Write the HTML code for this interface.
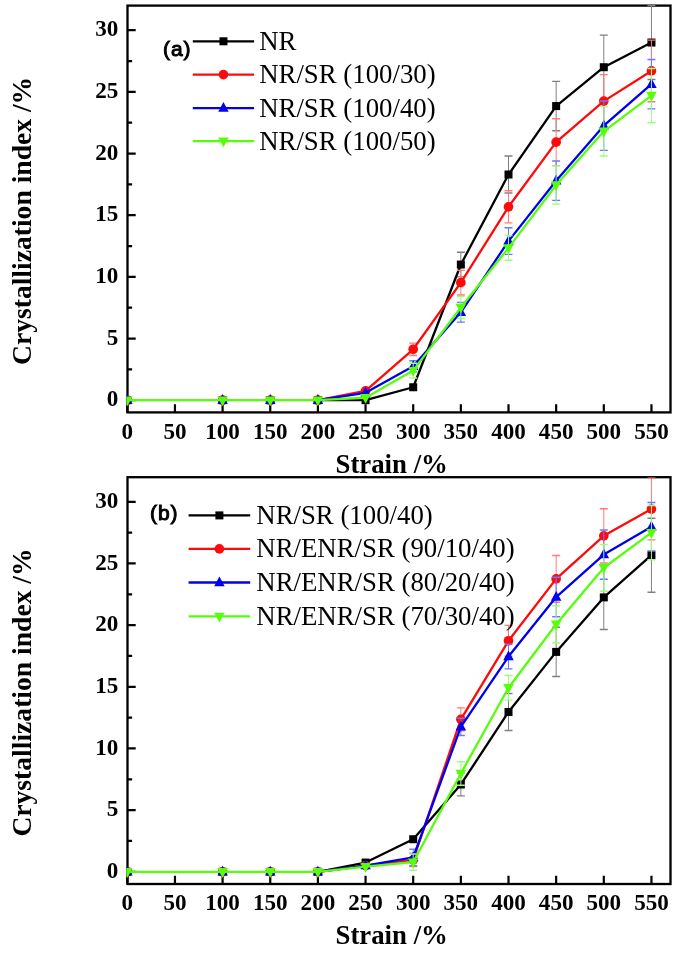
<!DOCTYPE html><html><head><meta charset="utf-8"><style>html,body{margin:0;padding:0;background:#fff;}svg{display:block;will-change:transform;}.t{font-family:"Liberation Serif",serif;font-weight:bold;font-size:23.1px;}.ti{font-family:"Liberation Serif",serif;font-weight:bold;font-size:26.8px;}.lg{font-family:"Liberation Serif",serif;font-size:26.8px;}.tag{font-family:"Liberation Sans",sans-serif;font-size:21px;stroke:#000;stroke-width:1.0;letter-spacing:1.0px;}.yt{font-family:"Liberation Serif",serif;font-weight:bold;font-size:27.6px;}</style></head><body>
<svg width="675" height="955" viewBox="0 0 675 955">
<rect width="675" height="955" fill="#fff"/>
<rect x="127.5" y="5.6" width="543.0" height="406.79999999999995" fill="none" stroke="#000" stroke-width="2.3"/>
<path d="M127.50 400.20H135.70 M127.50 369.37H132.10 M127.50 338.53H135.70 M127.50 307.70H132.10 M127.50 276.87H135.70 M127.50 246.04H132.10 M127.50 215.20H135.70 M127.50 184.37H132.10 M127.50 153.54H135.70 M127.50 122.71H132.10 M127.50 91.88H135.70 M127.50 61.04H132.10 M127.50 30.21H135.70 M127.30 412.40V404.20 M174.95 412.40V404.20 M222.60 412.40V404.20 M270.25 412.40V404.20 M317.90 412.40V404.20 M365.55 412.40V404.20 M413.20 412.40V404.20 M460.85 412.40V404.20 M508.50 412.40V404.20 M556.15 412.40V404.20 M603.80 412.40V404.20 M651.45 412.40V404.20" stroke="#000" stroke-width="2.2" fill="none"/>
<clipPath id="c0"><rect x="126.3" y="4.3999999999999995" width="545.4" height="409.19999999999993"/></clipPath>
<g clip-path="url(#c0)">
<path d="M460.85 252.20V276.87" stroke="#808080" stroke-width="1.0" fill="none"/>
<path d="M456.85 252.20H464.85M456.85 276.87H464.85" stroke="#808080" stroke-width="1.4" fill="none"/>
<path d="M508.50 156.01V193.01" stroke="#808080" stroke-width="1.0" fill="none"/>
<path d="M504.50 156.01H512.50M504.50 193.01H512.50" stroke="#808080" stroke-width="1.4" fill="none"/>
<path d="M556.15 81.39V130.72" stroke="#808080" stroke-width="1.0" fill="none"/>
<path d="M552.15 81.39H560.15M552.15 130.72H560.15" stroke="#808080" stroke-width="1.4" fill="none"/>
<path d="M603.80 35.14V99.27" stroke="#808080" stroke-width="1.0" fill="none"/>
<path d="M599.80 35.14H607.80M599.80 99.27H607.80" stroke="#808080" stroke-width="1.4" fill="none"/>
<path d="M651.45 5.54V79.54" stroke="#808080" stroke-width="1.0" fill="none"/>
<path d="M647.45 5.54H655.45M647.45 79.54H655.45" stroke="#808080" stroke-width="1.4" fill="none"/>
<polyline points="317.90,400.20 365.55,400.20 413.20,387.25 460.85,264.54 508.50,174.51 556.15,106.06 603.80,67.21 651.45,42.54" fill="none" stroke="#000000" stroke-width="2.3" stroke-linejoin="round"/>
<rect x="123.30" y="396.20" width="8.0" height="8.0" fill="#000000"/>
<rect x="218.60" y="396.20" width="8.0" height="8.0" fill="#000000"/>
<rect x="266.25" y="396.20" width="8.0" height="8.0" fill="#000000"/>
<rect x="313.90" y="396.20" width="8.0" height="8.0" fill="#000000"/>
<rect x="361.55" y="396.20" width="8.0" height="8.0" fill="#000000"/>
<rect x="409.20" y="383.25" width="8.0" height="8.0" fill="#000000"/>
<rect x="456.85" y="260.54" width="8.0" height="8.0" fill="#000000"/>
<rect x="504.50" y="170.51" width="8.0" height="8.0" fill="#000000"/>
<rect x="552.15" y="102.06" width="8.0" height="8.0" fill="#000000"/>
<rect x="599.80" y="63.21" width="8.0" height="8.0" fill="#000000"/>
<rect x="647.45" y="38.54" width="8.0" height="8.0" fill="#000000"/>
<path d="M413.20 343.10V355.43" stroke="#ff7a7a" stroke-width="1.0" fill="none"/>
<path d="M409.20 343.10H417.20M409.20 355.43H417.20" stroke="#ff7a7a" stroke-width="1.4" fill="none"/>
<path d="M460.85 270.33V295.00" stroke="#ff7a7a" stroke-width="1.0" fill="none"/>
<path d="M456.85 270.33H464.85M456.85 295.00H464.85" stroke="#ff7a7a" stroke-width="1.4" fill="none"/>
<path d="M508.50 190.79V222.85" stroke="#ff7a7a" stroke-width="1.0" fill="none"/>
<path d="M504.50 190.79H512.50M504.50 222.85H512.50" stroke="#ff7a7a" stroke-width="1.4" fill="none"/>
<path d="M556.15 118.76V165.63" stroke="#ff7a7a" stroke-width="1.0" fill="none"/>
<path d="M552.15 118.76H560.15M552.15 165.63H560.15" stroke="#ff7a7a" stroke-width="1.4" fill="none"/>
<path d="M603.80 74.61V127.64" stroke="#ff7a7a" stroke-width="1.0" fill="none"/>
<path d="M599.80 74.61H607.80M599.80 127.64H607.80" stroke="#ff7a7a" stroke-width="1.4" fill="none"/>
<path d="M651.45 40.08V101.74" stroke="#ff7a7a" stroke-width="1.0" fill="none"/>
<path d="M647.45 40.08H655.45M647.45 101.74H655.45" stroke="#ff7a7a" stroke-width="1.4" fill="none"/>
<polyline points="317.90,400.20 365.55,390.95 413.20,349.26 460.85,282.67 508.50,206.82 556.15,142.19 603.80,101.12 651.45,70.91" fill="none" stroke="#ff0a0a" stroke-width="2.3" stroke-linejoin="round"/>
<circle cx="127.30" cy="400.20" r="4.85" fill="#ff0a0a"/>
<circle cx="222.60" cy="400.20" r="4.85" fill="#ff0a0a"/>
<circle cx="270.25" cy="400.20" r="4.85" fill="#ff0a0a"/>
<circle cx="317.90" cy="400.20" r="4.85" fill="#ff0a0a"/>
<circle cx="365.55" cy="390.95" r="4.85" fill="#ff0a0a"/>
<circle cx="413.20" cy="349.26" r="4.85" fill="#ff0a0a"/>
<circle cx="460.85" cy="282.67" r="4.85" fill="#ff0a0a"/>
<circle cx="508.50" cy="206.82" r="4.85" fill="#ff0a0a"/>
<circle cx="556.15" cy="142.19" r="4.85" fill="#ff0a0a"/>
<circle cx="603.80" cy="101.12" r="4.85" fill="#ff0a0a"/>
<circle cx="651.45" cy="70.91" r="4.85" fill="#ff0a0a"/>
<path d="M413.20 360.73V371.83" stroke="#6a78ff" stroke-width="1.0" fill="none"/>
<path d="M409.20 360.73H417.20M409.20 371.83H417.20" stroke="#6a78ff" stroke-width="1.4" fill="none"/>
<path d="M460.85 302.40V322.13" stroke="#6a78ff" stroke-width="1.0" fill="none"/>
<path d="M456.85 302.40H464.85M456.85 322.13H464.85" stroke="#6a78ff" stroke-width="1.4" fill="none"/>
<path d="M508.50 227.78V254.42" stroke="#6a78ff" stroke-width="1.0" fill="none"/>
<path d="M504.50 227.78H512.50M504.50 254.42H512.50" stroke="#6a78ff" stroke-width="1.4" fill="none"/>
<path d="M556.15 160.94V200.41" stroke="#6a78ff" stroke-width="1.0" fill="none"/>
<path d="M552.15 160.94H560.15M552.15 200.41H560.15" stroke="#6a78ff" stroke-width="1.4" fill="none"/>
<path d="M603.80 101.00V150.33" stroke="#6a78ff" stroke-width="1.0" fill="none"/>
<path d="M599.80 101.00H607.80M599.80 150.33H607.80" stroke="#6a78ff" stroke-width="1.4" fill="none"/>
<path d="M651.45 59.56V108.89" stroke="#6a78ff" stroke-width="1.0" fill="none"/>
<path d="M647.45 59.56H655.45M647.45 108.89H655.45" stroke="#6a78ff" stroke-width="1.4" fill="none"/>
<polyline points="317.90,400.20 365.55,392.80 413.20,366.28 460.85,312.27 508.50,241.10 556.15,180.67 603.80,125.67 651.45,84.23" fill="none" stroke="#0000f0" stroke-width="2.3" stroke-linejoin="round"/>
<path d="M127.30 394.12L132.55 403.92L122.05 403.92Z" fill="#0000f0"/>
<path d="M222.60 394.12L227.85 403.92L217.35 403.92Z" fill="#0000f0"/>
<path d="M270.25 394.12L275.50 403.92L265.00 403.92Z" fill="#0000f0"/>
<path d="M317.90 394.12L323.15 403.92L312.65 403.92Z" fill="#0000f0"/>
<path d="M365.55 386.72L370.80 396.52L360.30 396.52Z" fill="#0000f0"/>
<path d="M413.20 360.21L418.45 370.01L407.95 370.01Z" fill="#0000f0"/>
<path d="M460.85 306.19L466.10 315.99L455.60 315.99Z" fill="#0000f0"/>
<path d="M508.50 235.03L513.75 244.83L503.25 244.83Z" fill="#0000f0"/>
<path d="M556.15 174.60L561.40 184.40L550.90 184.40Z" fill="#0000f0"/>
<path d="M603.80 119.59L609.05 129.39L598.55 129.39Z" fill="#0000f0"/>
<path d="M651.45 78.15L656.70 87.95L646.20 87.95Z" fill="#0000f0"/>
<path d="M413.20 363.20V378.00" stroke="#9cff78" stroke-width="1.0" fill="none"/>
<path d="M409.20 363.20H417.20M409.20 378.00H417.20" stroke="#9cff78" stroke-width="1.4" fill="none"/>
<path d="M460.85 296.36V318.56" stroke="#9cff78" stroke-width="1.0" fill="none"/>
<path d="M456.85 296.36H464.85M456.85 318.56H464.85" stroke="#9cff78" stroke-width="1.4" fill="none"/>
<path d="M508.50 235.55V260.22" stroke="#9cff78" stroke-width="1.0" fill="none"/>
<path d="M504.50 235.55H512.50M504.50 260.22H512.50" stroke="#9cff78" stroke-width="1.4" fill="none"/>
<path d="M556.15 165.87V204.11" stroke="#9cff78" stroke-width="1.0" fill="none"/>
<path d="M552.15 165.87H560.15M552.15 204.11H560.15" stroke="#9cff78" stroke-width="1.4" fill="none"/>
<path d="M603.80 106.67V156.01" stroke="#9cff78" stroke-width="1.0" fill="none"/>
<path d="M599.80 106.67H607.80M599.80 156.01H607.80" stroke="#9cff78" stroke-width="1.4" fill="none"/>
<path d="M651.45 68.44V122.71" stroke="#9cff78" stroke-width="1.0" fill="none"/>
<path d="M647.45 68.44H655.45M647.45 122.71H655.45" stroke="#9cff78" stroke-width="1.4" fill="none"/>
<polyline points="127.30,400.20 222.60,400.20 270.25,400.20 317.90,400.20 365.55,397.73 413.20,370.60 460.85,307.46 508.50,247.89 556.15,184.99 603.80,131.34 651.45,95.57" fill="none" stroke="#55ff0a" stroke-width="2.3" stroke-linejoin="round"/>
<path d="M127.30 406.28L132.55 396.48L122.05 396.48Z" fill="#55ff0a"/>
<path d="M222.60 406.28L227.85 396.48L217.35 396.48Z" fill="#55ff0a"/>
<path d="M270.25 406.28L275.50 396.48L265.00 396.48Z" fill="#55ff0a"/>
<path d="M317.90 406.28L323.15 396.48L312.65 396.48Z" fill="#55ff0a"/>
<path d="M365.55 403.81L370.80 394.01L360.30 394.01Z" fill="#55ff0a"/>
<path d="M413.20 376.68L418.45 366.88L407.95 366.88Z" fill="#55ff0a"/>
<path d="M460.85 313.53L466.10 303.73L455.60 303.73Z" fill="#55ff0a"/>
<path d="M508.50 253.96L513.75 244.16L503.25 244.16Z" fill="#55ff0a"/>
<path d="M556.15 191.07L561.40 181.27L550.90 181.27Z" fill="#55ff0a"/>
<path d="M603.80 137.42L609.05 127.62L598.55 127.62Z" fill="#55ff0a"/>
<path d="M651.45 101.65L656.70 91.85L646.20 91.85Z" fill="#55ff0a"/>
</g>
<text class="t" x="118.3" y="406.40" text-anchor="end">0</text>
<text class="t" x="118.3" y="344.73" text-anchor="end">5</text>
<text class="t" x="118.3" y="283.07" text-anchor="end">10</text>
<text class="t" x="118.3" y="221.40" text-anchor="end">15</text>
<text class="t" x="118.3" y="159.74" text-anchor="end">20</text>
<text class="t" x="118.3" y="98.08" text-anchor="end">25</text>
<text class="t" x="118.3" y="36.41" text-anchor="end">30</text>
<text class="t" x="127.30" y="438.60" text-anchor="middle">0</text>
<text class="t" x="174.95" y="438.60" text-anchor="middle">50</text>
<text class="t" x="222.60" y="438.60" text-anchor="middle">100</text>
<text class="t" x="270.25" y="438.60" text-anchor="middle">150</text>
<text class="t" x="317.90" y="438.60" text-anchor="middle">200</text>
<text class="t" x="365.55" y="438.60" text-anchor="middle">250</text>
<text class="t" x="413.20" y="438.60" text-anchor="middle">300</text>
<text class="t" x="460.85" y="438.60" text-anchor="middle">350</text>
<text class="t" x="508.50" y="438.60" text-anchor="middle">400</text>
<text class="t" x="556.15" y="438.60" text-anchor="middle">450</text>
<text class="t" x="603.80" y="438.60" text-anchor="middle">500</text>
<text class="t" x="651.45" y="438.60" text-anchor="middle">550</text>
<text class="ti" x="335.5" y="472.70">Strain /%</text>
<text class="yt" transform="translate(31.3 365.00) rotate(-90)" x="0" y="0">Crystallization index /%</text>
<text class="tag" x="162.9" y="55.8">(a)</text>
<path d="M192.8 41.3H254.1" stroke="#000000" stroke-width="2.3"/>
<rect x="219.45" y="37.30" width="8.0" height="8.0" fill="#000000"/>
<text class="lg" x="259.2" y="49.70">NR</text>
<path d="M192.8 74.6H254.1" stroke="#ff0a0a" stroke-width="2.3"/>
<circle cx="223.45" cy="74.60" r="4.85" fill="#ff0a0a"/>
<text class="lg" x="259.2" y="83.00">NR/SR (100/30)</text>
<path d="M192.8 108.1H254.1" stroke="#0000f0" stroke-width="2.3"/>
<path d="M223.45 102.02L228.70 111.82L218.20 111.82Z" fill="#0000f0"/>
<text class="lg" x="259.2" y="116.50">NR/SR (100/40)</text>
<path d="M192.8 141.2H254.1" stroke="#55ff0a" stroke-width="2.3"/>
<path d="M223.45 147.28L228.70 137.48L218.20 137.48Z" fill="#55ff0a"/>
<text class="lg" x="259.2" y="149.60">NR/SR (100/50)</text>
<rect x="127.5" y="477.20000000000005" width="543.0" height="406.79999999999995" fill="none" stroke="#000" stroke-width="2.3"/>
<path d="M127.50 871.80H135.70 M127.50 840.97H132.10 M127.50 810.13H135.70 M127.50 779.30H132.10 M127.50 748.47H135.70 M127.50 717.64H132.10 M127.50 686.80H135.70 M127.50 655.97H132.10 M127.50 625.14H135.70 M127.50 594.31H132.10 M127.50 563.47H135.70 M127.50 532.64H132.10 M127.50 501.81H135.70 M127.30 884.00V875.80 M174.95 884.00V875.80 M222.60 884.00V875.80 M270.25 884.00V875.80 M317.90 884.00V875.80 M365.55 884.00V875.80 M413.20 884.00V875.80 M460.85 884.00V875.80 M508.50 884.00V875.80 M556.15 884.00V875.80 M603.80 884.00V875.80 M651.45 884.00V875.80" stroke="#000" stroke-width="2.2" fill="none"/>
<clipPath id="c1"><rect x="126.3" y="476.00000000000006" width="545.4" height="409.19999999999993"/></clipPath>
<g clip-path="url(#c1)">
<path d="M460.85 773.14V795.83" stroke="#808080" stroke-width="1.0" fill="none"/>
<path d="M456.85 773.14H464.85M456.85 795.83H464.85" stroke="#808080" stroke-width="1.4" fill="none"/>
<path d="M508.50 693.46V730.46" stroke="#808080" stroke-width="1.0" fill="none"/>
<path d="M504.50 693.46H512.50M504.50 730.46H512.50" stroke="#808080" stroke-width="1.4" fill="none"/>
<path d="M556.15 627.24V676.57" stroke="#808080" stroke-width="1.0" fill="none"/>
<path d="M552.15 627.24H560.15M552.15 676.57H560.15" stroke="#808080" stroke-width="1.4" fill="none"/>
<path d="M603.80 565.32V629.46" stroke="#808080" stroke-width="1.0" fill="none"/>
<path d="M599.80 565.32H607.80M599.80 629.46H607.80" stroke="#808080" stroke-width="1.4" fill="none"/>
<path d="M651.45 518.21V592.21" stroke="#808080" stroke-width="1.0" fill="none"/>
<path d="M647.45 518.21H655.45M647.45 592.21H655.45" stroke="#808080" stroke-width="1.4" fill="none"/>
<polyline points="317.90,871.80 365.55,862.55 413.20,839.24 460.85,784.48 508.50,711.96 556.15,651.90 603.80,597.39 651.45,555.21" fill="none" stroke="#000000" stroke-width="2.3" stroke-linejoin="round"/>
<rect x="123.30" y="867.80" width="8.0" height="8.0" fill="#000000"/>
<rect x="218.60" y="867.80" width="8.0" height="8.0" fill="#000000"/>
<rect x="266.25" y="867.80" width="8.0" height="8.0" fill="#000000"/>
<rect x="313.90" y="867.80" width="8.0" height="8.0" fill="#000000"/>
<rect x="361.55" y="858.55" width="8.0" height="8.0" fill="#000000"/>
<rect x="409.20" y="835.24" width="8.0" height="8.0" fill="#000000"/>
<rect x="456.85" y="780.48" width="8.0" height="8.0" fill="#000000"/>
<rect x="504.50" y="707.96" width="8.0" height="8.0" fill="#000000"/>
<rect x="552.15" y="647.90" width="8.0" height="8.0" fill="#000000"/>
<rect x="599.80" y="593.39" width="8.0" height="8.0" fill="#000000"/>
<rect x="647.45" y="551.21" width="8.0" height="8.0" fill="#000000"/>
<path d="M413.20 853.18V866.50" stroke="#ff7a7a" stroke-width="1.0" fill="none"/>
<path d="M409.20 853.18H417.20M409.20 866.50H417.20" stroke="#ff7a7a" stroke-width="1.4" fill="none"/>
<path d="M460.85 707.89V730.83" stroke="#ff7a7a" stroke-width="1.0" fill="none"/>
<path d="M456.85 707.89H464.85M456.85 730.83H464.85" stroke="#ff7a7a" stroke-width="1.4" fill="none"/>
<path d="M508.50 625.39V656.22" stroke="#ff7a7a" stroke-width="1.0" fill="none"/>
<path d="M504.50 625.39H512.50M504.50 656.22H512.50" stroke="#ff7a7a" stroke-width="1.4" fill="none"/>
<path d="M556.15 555.46V602.32" stroke="#ff7a7a" stroke-width="1.0" fill="none"/>
<path d="M552.15 555.46H560.15M552.15 602.32H560.15" stroke="#ff7a7a" stroke-width="1.4" fill="none"/>
<path d="M603.80 508.72V562.98" stroke="#ff7a7a" stroke-width="1.0" fill="none"/>
<path d="M599.80 508.72H607.80M599.80 562.98H607.80" stroke="#ff7a7a" stroke-width="1.4" fill="none"/>
<path d="M651.45 478.25V539.92" stroke="#ff7a7a" stroke-width="1.0" fill="none"/>
<path d="M647.45 478.25H655.45M647.45 539.92H655.45" stroke="#ff7a7a" stroke-width="1.4" fill="none"/>
<polyline points="317.90,871.80 365.55,865.63 413.20,859.84 460.85,719.36 508.50,640.80 556.15,578.89 603.80,535.85 651.45,509.09" fill="none" stroke="#ff0a0a" stroke-width="2.3" stroke-linejoin="round"/>
<circle cx="127.30" cy="871.80" r="4.85" fill="#ff0a0a"/>
<circle cx="222.60" cy="871.80" r="4.85" fill="#ff0a0a"/>
<circle cx="270.25" cy="871.80" r="4.85" fill="#ff0a0a"/>
<circle cx="317.90" cy="871.80" r="4.85" fill="#ff0a0a"/>
<circle cx="365.55" cy="865.63" r="4.85" fill="#ff0a0a"/>
<circle cx="413.20" cy="859.84" r="4.85" fill="#ff0a0a"/>
<circle cx="460.85" cy="719.36" r="4.85" fill="#ff0a0a"/>
<circle cx="508.50" cy="640.80" r="4.85" fill="#ff0a0a"/>
<circle cx="556.15" cy="578.89" r="4.85" fill="#ff0a0a"/>
<circle cx="603.80" cy="535.85" r="4.85" fill="#ff0a0a"/>
<circle cx="651.45" cy="509.09" r="4.85" fill="#ff0a0a"/>
<path d="M413.20 849.23V865.76" stroke="#6a78ff" stroke-width="1.0" fill="none"/>
<path d="M409.20 849.23H417.20M409.20 865.76H417.20" stroke="#6a78ff" stroke-width="1.4" fill="none"/>
<path d="M460.85 718.25V735.52" stroke="#6a78ff" stroke-width="1.0" fill="none"/>
<path d="M456.85 718.25H464.85M456.85 735.52H464.85" stroke="#6a78ff" stroke-width="1.4" fill="none"/>
<path d="M508.50 644.26V668.92" stroke="#6a78ff" stroke-width="1.0" fill="none"/>
<path d="M504.50 644.26H512.50M504.50 668.92H512.50" stroke="#6a78ff" stroke-width="1.4" fill="none"/>
<path d="M556.15 577.29V616.75" stroke="#6a78ff" stroke-width="1.0" fill="none"/>
<path d="M552.15 577.29H560.15M552.15 616.75H560.15" stroke="#6a78ff" stroke-width="1.4" fill="none"/>
<path d="M603.80 529.93V579.26" stroke="#6a78ff" stroke-width="1.0" fill="none"/>
<path d="M599.80 529.93H607.80M599.80 579.26H607.80" stroke="#6a78ff" stroke-width="1.4" fill="none"/>
<path d="M651.45 502.55V550.90" stroke="#6a78ff" stroke-width="1.0" fill="none"/>
<path d="M647.45 502.55H655.45M647.45 550.90H655.45" stroke="#6a78ff" stroke-width="1.4" fill="none"/>
<polyline points="317.90,871.80 365.55,865.63 413.20,857.49 460.85,726.89 508.50,656.59 556.15,597.02 603.80,554.60 651.45,526.72" fill="none" stroke="#0000f0" stroke-width="2.3" stroke-linejoin="round"/>
<path d="M127.30 865.72L132.55 875.52L122.05 875.52Z" fill="#0000f0"/>
<path d="M222.60 865.72L227.85 875.52L217.35 875.52Z" fill="#0000f0"/>
<path d="M270.25 865.72L275.50 875.52L265.00 875.52Z" fill="#0000f0"/>
<path d="M317.90 865.72L323.15 875.52L312.65 875.52Z" fill="#0000f0"/>
<path d="M365.55 859.56L370.80 869.36L360.30 869.36Z" fill="#0000f0"/>
<path d="M413.20 851.42L418.45 861.22L407.95 861.22Z" fill="#0000f0"/>
<path d="M460.85 720.81L466.10 730.61L455.60 730.61Z" fill="#0000f0"/>
<path d="M508.50 650.51L513.75 660.31L503.25 660.31Z" fill="#0000f0"/>
<path d="M556.15 590.94L561.40 600.74L550.90 600.74Z" fill="#0000f0"/>
<path d="M603.80 548.52L609.05 558.32L598.55 558.32Z" fill="#0000f0"/>
<path d="M651.45 520.65L656.70 530.45L646.20 530.45Z" fill="#0000f0"/>
<path d="M413.20 854.04V870.32" stroke="#9cff78" stroke-width="1.0" fill="none"/>
<path d="M409.20 854.04H417.20M409.20 870.32H417.20" stroke="#9cff78" stroke-width="1.4" fill="none"/>
<path d="M460.85 761.79V785.22" stroke="#9cff78" stroke-width="1.0" fill="none"/>
<path d="M456.85 761.79H464.85M456.85 785.22H464.85" stroke="#9cff78" stroke-width="1.4" fill="none"/>
<path d="M508.50 675.46V700.12" stroke="#9cff78" stroke-width="1.0" fill="none"/>
<path d="M504.50 675.46H512.50M504.50 700.12H512.50" stroke="#9cff78" stroke-width="1.4" fill="none"/>
<path d="M556.15 605.78V642.78" stroke="#9cff78" stroke-width="1.0" fill="none"/>
<path d="M552.15 605.78H560.15M552.15 642.78H560.15" stroke="#9cff78" stroke-width="1.4" fill="none"/>
<path d="M603.80 544.36V591.22" stroke="#9cff78" stroke-width="1.0" fill="none"/>
<path d="M599.80 544.36H607.80M599.80 591.22H607.80" stroke="#9cff78" stroke-width="1.4" fill="none"/>
<path d="M651.45 505.51V559.78" stroke="#9cff78" stroke-width="1.0" fill="none"/>
<path d="M647.45 505.51H655.45M647.45 559.78H655.45" stroke="#9cff78" stroke-width="1.4" fill="none"/>
<polyline points="127.30,871.80 222.60,871.80 270.25,871.80 317.90,871.80 365.55,866.62 413.20,862.18 460.85,773.51 508.50,687.79 556.15,624.28 603.80,567.79 651.45,532.64" fill="none" stroke="#55ff0a" stroke-width="2.3" stroke-linejoin="round"/>
<path d="M127.30 877.88L132.55 868.08L122.05 868.08Z" fill="#55ff0a"/>
<path d="M222.60 877.88L227.85 868.08L217.35 868.08Z" fill="#55ff0a"/>
<path d="M270.25 877.88L275.50 868.08L265.00 868.08Z" fill="#55ff0a"/>
<path d="M317.90 877.88L323.15 868.08L312.65 868.08Z" fill="#55ff0a"/>
<path d="M365.55 872.70L370.80 862.90L360.30 862.90Z" fill="#55ff0a"/>
<path d="M413.20 868.26L418.45 858.46L407.95 858.46Z" fill="#55ff0a"/>
<path d="M460.85 779.58L466.10 769.78L455.60 769.78Z" fill="#55ff0a"/>
<path d="M508.50 693.87L513.75 684.07L503.25 684.07Z" fill="#55ff0a"/>
<path d="M556.15 630.35L561.40 620.55L550.90 620.55Z" fill="#55ff0a"/>
<path d="M603.80 573.87L609.05 564.07L598.55 564.07Z" fill="#55ff0a"/>
<path d="M651.45 538.72L656.70 528.92L646.20 528.92Z" fill="#55ff0a"/>
</g>
<text class="t" x="118.3" y="878.00" text-anchor="end">0</text>
<text class="t" x="118.3" y="816.34" text-anchor="end">5</text>
<text class="t" x="118.3" y="754.67" text-anchor="end">10</text>
<text class="t" x="118.3" y="693.00" text-anchor="end">15</text>
<text class="t" x="118.3" y="631.34" text-anchor="end">20</text>
<text class="t" x="118.3" y="569.67" text-anchor="end">25</text>
<text class="t" x="118.3" y="508.01" text-anchor="end">30</text>
<text class="t" x="127.30" y="910.20" text-anchor="middle">0</text>
<text class="t" x="174.95" y="910.20" text-anchor="middle">50</text>
<text class="t" x="222.60" y="910.20" text-anchor="middle">100</text>
<text class="t" x="270.25" y="910.20" text-anchor="middle">150</text>
<text class="t" x="317.90" y="910.20" text-anchor="middle">200</text>
<text class="t" x="365.55" y="910.20" text-anchor="middle">250</text>
<text class="t" x="413.20" y="910.20" text-anchor="middle">300</text>
<text class="t" x="460.85" y="910.20" text-anchor="middle">350</text>
<text class="t" x="508.50" y="910.20" text-anchor="middle">400</text>
<text class="t" x="556.15" y="910.20" text-anchor="middle">450</text>
<text class="t" x="603.80" y="910.20" text-anchor="middle">500</text>
<text class="t" x="651.45" y="910.20" text-anchor="middle">550</text>
<text class="ti" x="335.5" y="944.30">Strain /%</text>
<text class="yt" transform="translate(31.3 836.60) rotate(-90)" x="0" y="0">Crystallization index /%</text>
<text class="tag" x="149.9" y="519.8">(b)</text>
<path d="M188.6 515.4H250.2" stroke="#000000" stroke-width="2.3"/>
<rect x="215.40" y="511.40" width="8.0" height="8.0" fill="#000000"/>
<text class="lg" x="256.3" y="523.80">NR/SR (100/40)</text>
<path d="M188.6 548.9H250.2" stroke="#ff0a0a" stroke-width="2.3"/>
<circle cx="219.40" cy="548.90" r="4.85" fill="#ff0a0a"/>
<text class="lg" x="256.3" y="557.30">NR/ENR/SR (90/10/40)</text>
<path d="M188.6 582.5H250.2" stroke="#0000f0" stroke-width="2.3"/>
<path d="M219.40 576.42L224.65 586.22L214.15 586.22Z" fill="#0000f0"/>
<text class="lg" x="256.3" y="590.90">NR/ENR/SR (80/20/40)</text>
<path d="M188.6 616.4H250.2" stroke="#55ff0a" stroke-width="2.3"/>
<path d="M219.40 622.48L224.65 612.68L214.15 612.68Z" fill="#55ff0a"/>
<text class="lg" x="256.3" y="624.80">NR/ENR/SR (70/30/40)</text>
</svg></body></html>
